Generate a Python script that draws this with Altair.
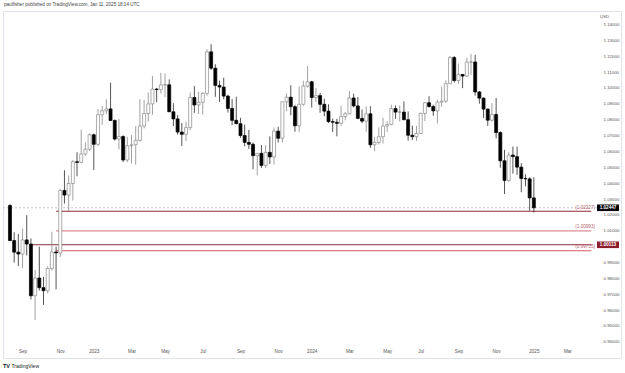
import altair as alt
import pandas as pd

# Weekly EUR/USD candles, week of 2022-08-15 .. 2025-01-06 (bar index 0..125)
open_ = [1.0259,1.0038,0.9965,0.9953,1.0042,1.0016,0.9690,0.9802,0.9741,0.9722,
         0.9862,0.9966,0.9960,1.0354,1.0325,1.0398,1.0535,1.0531,1.0584,1.0614,
         1.0705,1.0645,1.0831,1.0856,1.0868,1.0795,1.0678,1.0694,1.0546,1.0636,
         1.0642,1.0670,1.0760,1.0839,1.0900,1.0993,1.0990,1.1020,1.1020,1.0850,
         1.0805,1.0722,1.0708,1.0750,1.0940,1.0893,1.0910,1.0966,1.1228,1.1125,
         1.1016,1.1006,1.0949,1.0871,1.0796,1.0775,1.0700,1.0657,1.0645,1.0573,
         1.0588,1.0512,1.0594,1.0565,1.0728,1.0683,1.0913,1.0942,1.0882,1.0762,
         1.0897,1.1012,1.1039,1.0940,1.0952,1.0897,1.0854,1.0788,1.0784,1.0777,
         1.0820,1.0838,1.0937,1.0887,1.0808,1.0791,1.0837,1.0642,1.0656,1.0693,
         1.0760,1.0770,1.0870,1.0848,1.0848,1.0800,1.0702,1.0693,1.0713,1.0840,
         1.0907,1.0883,1.0856,1.0911,1.0917,1.1027,1.1192,1.1047,1.1085,1.1075,
         1.1163,1.1164,1.0975,1.0936,1.0867,1.0797,1.0833,1.0719,1.0541,1.0417,
         1.0577,1.0567,1.0501,1.0429,1.0427,1.0307]
high = [1.0268,1.0090,1.0079,1.0114,1.0198,1.0051,0.9853,0.9999,0.9809,0.9876,
        1.0094,1.0000,1.0364,1.0481,1.0448,1.0545,1.0595,1.0737,1.0658,1.0714,
        1.0713,1.0867,1.0887,1.0929,1.1033,1.0802,1.0804,1.0702,1.0692,1.0703,
        1.0760,1.0930,1.0925,1.0973,1.1076,1.1000,1.1095,1.1092,1.1054,1.0904,
        1.0830,1.0779,1.0787,1.0971,1.1012,1.0976,1.0975,1.1245,1.1276,1.1150,
        1.1046,1.1065,1.0958,1.0930,1.0945,1.0812,1.0769,1.0736,1.0656,1.0590,
        1.0640,1.0640,1.0695,1.0750,1.0756,1.0914,1.0965,1.1017,1.0894,1.1009,
        1.1046,1.1139,1.1045,1.0999,1.0969,1.0933,1.0897,1.0807,1.0806,1.0888,
        1.0849,1.0981,1.0964,1.0942,1.0865,1.0885,1.0885,1.0690,1.0752,1.0812,
        1.0790,1.0895,1.0889,1.0889,1.0916,1.0852,1.0762,1.0762,1.0844,1.0910,
        1.0948,1.0895,1.0926,1.1009,1.1047,1.1201,1.1202,1.1155,1.1089,1.1190,
        1.1214,1.1209,1.0980,1.0941,1.0870,1.0905,1.0937,1.0727,1.0610,1.0596,
        1.0630,1.0630,1.0526,1.0456,1.0437,1.0437]
low = [1.0034,0.9899,0.9877,0.9864,0.9944,0.9667,0.9536,0.9723,0.9632,0.9704,
       0.9848,0.9730,0.9935,1.0271,1.0223,1.0290,1.0443,1.0525,1.0571,1.0602,
       1.0483,1.0632,1.0767,1.0835,1.0794,1.0669,1.0613,1.0533,1.0533,1.0524,
       1.0516,1.0661,1.0745,1.0788,1.0831,1.0910,1.0965,1.0942,1.0848,1.0760,
       1.0706,1.0635,1.0665,1.0733,1.0843,1.0835,1.0833,1.0951,1.1113,1.0944,
       1.0912,1.0929,1.0845,1.0766,1.0771,1.0686,1.0632,1.0615,1.0488,1.0448,
       1.0496,1.0496,1.0520,1.0517,1.0656,1.0656,1.0853,1.0827,1.0724,1.0723,
       1.0888,1.1002,1.0877,1.0910,1.0844,1.0822,1.0779,1.0722,1.0695,1.0761,
       1.0796,1.0835,1.0878,1.0803,1.0778,1.0724,1.0623,1.0601,1.0643,1.0650,
       1.0723,1.0765,1.0805,1.0788,1.0797,1.0668,1.0671,1.0666,1.0710,1.0791,
       1.0876,1.0825,1.0777,1.0881,1.0906,1.1027,1.1034,1.1026,1.0999,1.1069,
       1.1082,1.0952,1.0901,1.0811,1.0761,1.0788,1.0682,1.0497,1.0332,1.0410,
       1.0460,1.0452,1.0343,1.0380,1.0226,1.0215]
close = [1.0038,0.9965,0.9953,1.0042,1.0016,0.9690,0.9802,0.9741,0.9722,0.9862,
         0.9966,0.9960,1.0354,1.0325,1.0398,1.0535,1.0531,1.0584,1.0614,1.0705,
         1.0645,1.0831,1.0856,1.0868,1.0795,1.0678,1.0694,1.0546,1.0636,1.0642,
         1.0670,1.0760,1.0839,1.0900,1.0993,1.0990,1.1020,1.1020,1.0850,1.0805,
         1.0722,1.0708,1.0750,1.0940,1.0893,1.0910,1.0966,1.1228,1.1125,1.1016,
         1.1006,1.0949,1.0871,1.0796,1.0775,1.0700,1.0657,1.0645,1.0573,1.0588,
         1.0512,1.0594,1.0565,1.0728,1.0683,1.0913,1.0942,1.0882,1.0762,1.0897,
         1.1012,1.1039,1.0940,1.0952,1.0897,1.0854,1.0788,1.0784,1.0777,1.0820,
         1.0838,1.0937,1.0887,1.0808,1.0791,1.0837,1.0642,1.0656,1.0693,1.0760,
         1.0770,1.0870,1.0848,1.0848,1.0800,1.0702,1.0693,1.0713,1.0840,1.0907,
         1.0883,1.0856,1.0911,1.0917,1.1027,1.1192,1.1047,1.1085,1.1075,1.1163,
         1.1164,1.0975,1.0936,1.0867,1.0797,1.0833,1.0719,1.0541,1.0417,1.0577,
         1.0567,1.0501,1.0429,1.0427,1.0307,1.02447]

x_tick_idx = [3, 12, 20, 29, 37, 46, 55, 64, 72, 81, 90, 98, 107, 116, 125, 133]
x_tick_lab = ['Sep', 'Nov', '2023', 'Mar', 'May', 'Jul', 'Sep', 'Nov', '2024',
              'Mar', 'May', 'Jul', 'Sep', 'Nov', '2025', 'Mar']
# 1.00000 is hidden under the 1.00113 price tag in the reference
y_ticks = [0.94, 0.95, 0.96, 0.97, 0.98, 0.99, 1.01, 1.02, 1.03, 1.04,
           1.05, 1.06, 1.07, 1.08, 1.09, 1.10, 1.11, 1.12, 1.13, 1.14]

level_price = [1.02227, 1.00993, 1.00113, 0.99735]
level_start = [11, 11, 5, 11]
level_end = [138.7, 138.7, 138.7, 138.7]
level_color = ['#8e2a36', '#dc8e98', '#84303a', '#d65a68']
level_label = ['(1.02227)', '(1.00993)', '', '(0.99735)']

tag_price = [1.02447, 1.00113]
tag_text = ['1.02447', '1.00113']
tag_bg = ['#000000', '#8b1d2c']

FONT = 'Liberation Sans'

df = pd.DataFrame({'i': list(range(len(close))), 'open': open_, 'high': high,
                   'low': low, 'close': close})
lv = pd.DataFrame({'price': level_price, 'start': level_start, 'end': level_end,
                   'color': level_color, 'label': level_label})
tg = pd.DataFrame({'price': tag_price, 'text': tag_text, 'bg': tag_bg})
last = pd.DataFrame({'price': [close[-1]]})

xs = alt.Scale(domain=[-0.4695, 144.6], nice=False, zero=False)
ys = alt.Scale(domain=[0.92975, 1.14854], nice=False, zero=False)

lab_expr = "[" + ",".join("'%s'" % s for s in x_tick_lab) + "][indexof([" + \
    ",".join(str(v) for v in x_tick_idx) + "], datum.value)]"
xaxis = alt.Axis(values=x_tick_idx, labelExpr=lab_expr, title=None, grid=False,
                 domain=False, ticks=False, offset=-12, labelPadding=2,
                 labelFontSize=4.6, labelColor='#555555', labelFont=FONT,
                 labelFlush=False, labelOverlap=False, labelBound=False)
yaxis = alt.Axis(values=y_ticks, format='.5f', orient='right', title=None,
                 grid=False, domain=False, ticks=False, offset=-20,
                 labelPadding=2, labelFontSize=4.4, labelColor='#555555',
                 labelFont=FONT, labelAlign='left', labelOverlap=False,
                 labelBound=False, labelFlush=False)

X = alt.X('i:Q', scale=xs, axis=xaxis)
up = 'datum.close >= datum.open'

wicks = alt.Chart(df).mark_rule(strokeWidth=0.8).encode(
    x=X,
    y=alt.Y('low:Q', scale=ys, axis=yaxis),
    y2='high:Q',
    color=alt.condition(up, alt.value('#8a8a8a'), alt.value('#2a2a2a')),
)
bodies = alt.Chart(df).mark_bar(size=3, strokeWidth=0.7).encode(
    x=X,
    y=alt.Y('open:Q', scale=ys, axis=yaxis),
    y2='close:Q',
    fill=alt.condition(up, alt.value('#ffffff'), alt.value('#000000')),
    stroke=alt.condition(up, alt.value('#8a8a8a'), alt.value('#000000')),
)

last_line = alt.Chart(last).mark_rule(strokeDash=[2, 2], strokeWidth=0.8,
                                       color='#b8bbc3').encode(
    x=alt.value(0), x2=alt.value(594),
    y=alt.Y('price:Q', scale=ys, axis=yaxis),
)

levels = alt.Chart(lv).mark_rule(strokeWidth=1.1).encode(
    x=X, x2='end:Q',
    y=alt.Y('price:Q', scale=ys, axis=yaxis),
    color=alt.Color('color:N', scale=None),
).transform_calculate(i='datum.start')

level_text = alt.Chart(lv).mark_text(align='right', baseline='bottom', dy=-1.5,
                                     fontSize=4.6, font=FONT,
                                     color='#b3606c').encode(
    x=alt.value(592),
    y=alt.Y('price:Q', scale=ys, axis=yaxis),
    text='label:N',
)

tag_shape = 'M-1,-0.3H1V0.3H-1Z'
tags = alt.Chart(tg).mark_point(shape=tag_shape, filled=True, size=484,
                                opacity=1).encode(
    x=alt.value(605),
    y=alt.Y('price:Q', scale=ys, axis=yaxis),
    color=alt.Color('bg:N', scale=None),
)
tag_text_l = alt.Chart(tg).mark_text(fontSize=4.6, font=FONT, color='white',
                                     fontWeight='bold').encode(
    x=alt.value(605),
    y=alt.Y('price:Q', scale=ys, axis=yaxis),
    text='text:N',
)

header = alt.Chart(pd.DataFrame({'t': ['paulfisher published on TradingView.com, Jan 11, 2025 18:14 UTC']})).mark_text(
    align='left', baseline='middle', fontSize=4.6, font=FONT, color='#444444').encode(
    x=alt.value(1), y=alt.value(-6), text='t:N')
usd = alt.Chart(pd.DataFrame({'t': ['USD']})).mark_text(
    align='left', baseline='middle', fontSize=4.4, font=FONT, color='#555555').encode(
    x=alt.value(597), y=alt.value(6), text='t:N')
logo_tv = alt.Chart(pd.DataFrame({'t': ['TV']})).mark_text(
    align='left', baseline='middle', fontSize=5.5, font=FONT, fontWeight='bold',
    color='#131722').encode(x=alt.value(0), y=alt.value(355), text='t:N')
logo = alt.Chart(pd.DataFrame({'t': ['TradingView']})).mark_text(
    align='left', baseline='middle', fontSize=5, font=FONT, color='#131722').encode(
    x=alt.value(8.5), y=alt.value(355), text='t:N')

chart = alt.layer(
    last_line, levels, wicks, bodies, level_text, tags, tag_text_l,
    header, usd, logo_tv, logo
).properties(
    width=618, height=347,
    autosize=alt.AutoSizeParams(type='none'),
    padding={'left': 3, 'top': 11, 'right': 4, 'bottom': 15},
    background='white',
).configure_view(stroke='#e0e3eb', strokeWidth=1)

chart.save('out.html', embed_options={'renderer': 'svg', 'actions': False})
